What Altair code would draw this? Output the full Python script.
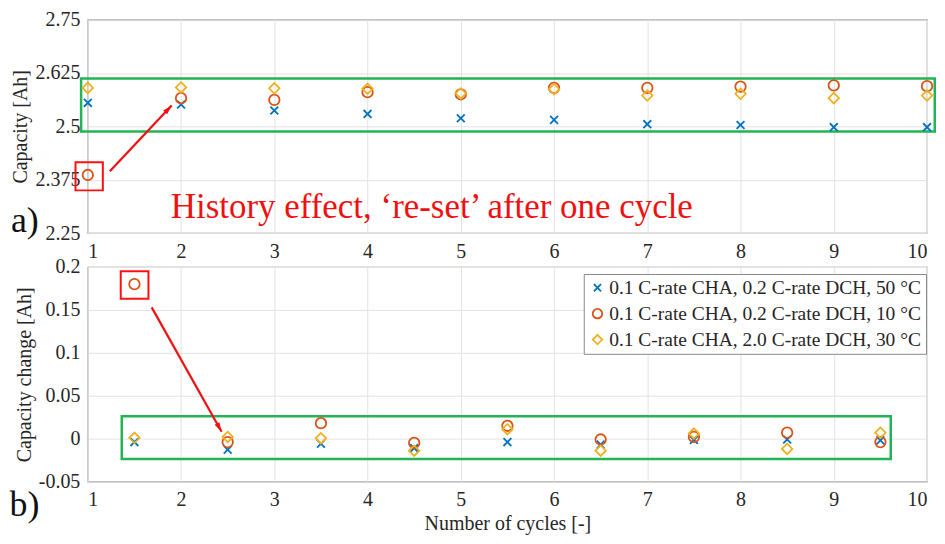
import altair as alt
import pandas as pd

# ---------------- data ----------------
cycles = [1, 2, 3, 4, 5, 6, 7, 8, 9, 10]
cap_50C = [2.555, 2.551, 2.537, 2.529, 2.519, 2.515, 2.505, 2.503, 2.498, 2.498]
cap_10C = [2.386, 2.566, 2.562, 2.580, 2.575, 2.590, 2.590, 2.593, 2.596, 2.594]
cap_30C = [2.590, 2.591, 2.589, 2.588, 2.577, 2.587, 2.572, 2.576, 2.566, 2.572]

mid_cycles = [1.5, 2.5, 3.5, 4.5, 5.5, 6.5, 7.5, 8.5, 9.5]
dcap_50C = [-0.004, -0.013, -0.006, -0.011, -0.004, -0.007, -0.0015, -0.001, -0.002]
dcap_10C = [0.180, -0.004, 0.018, -0.005, 0.015, -0.001, 0.002, 0.007, -0.004]
dcap_30C = [0.001, 0.002, 0.0005, -0.014, 0.011, -0.014, 0.006, -0.012, 0.007]

series = [
    "0.1 C-rate CHA, 0.2 C-rate DCH, 50 °C",
    "0.1 C-rate CHA, 0.2 C-rate DCH, 10 °C",
    "0.1 C-rate CHA, 2.0 C-rate DCH, 30 °C",
]
colors = ["#0072BD", "#D95319", "#EDB120"]
shapes = ["M-0.75,-0.75L0.75,0.75M-0.75,0.75L0.75,-0.75", "circle", "diamond"]

x_ticks = [1, 2, 3, 4, 5, 6, 7, 8, 9, 10]
top_y_ticks = [2.25, 2.375, 2.5, 2.625, 2.75]
bot_y_ticks = [-0.05, 0, 0.05, 0.1, 0.15, 0.2]

# annotation geometry (data units)
top_green = {"x": [0.928], "x2": [10.083], "y": [2.612], "y2": [2.488]}
top_red = {"x": [0.868], "x2": [1.161], "y": [2.416], "y2": [2.350]}
top_arrow = {"x": [1.236, 1.899], "y": [2.395, 2.549]}
top_arrow_angle = 43
top_note = ["History effect, \u2018re-set\u2019 after one cycle"]
top_note_pos = {"x": [1.89], "y": [2.2847]}
bot_green = {"x": [1.364], "x2": [9.611], "y": [0.026], "y2": [-0.0237]}
bot_red = {"x": [1.353], "x2": [1.650], "y": [0.195], "y2": [0.163]}
bot_arrow = {"x": [1.685, 2.435], "y": [0.153, 0.008]}
bot_arrow_angle = 151
panel_a = {"x": [0.325], "y": [2.2523], "t": ["a)"]}
panel_b = {"x": [0.32], "y": [-0.0899], "t": ["b)"]}

FONT = "Liberation Serif"
TXT = "#262626"

top_df = pd.DataFrame({
    "x": cycles * 3,
    "y": cap_50C + cap_10C + cap_30C,
    "series": [series[0]] * 10 + [series[1]] * 10 + [series[2]] * 10,
})
bot_df = pd.DataFrame({
    "x": mid_cycles * 3,
    "y": dcap_50C + dcap_10C + dcap_30C,
    "series": [series[0]] * 9 + [series[1]] * 9 + [series[2]] * 9,
})

W, H_TOP, H_BOT = 841, 214, 215

AX = dict(grid=True, ticks=False, domain=False,
          labelFont=FONT, labelFontSize=20, labelColor=TXT, labelPadding=8,
          titleFont=FONT, titleFontSize=20, titleFontWeight="normal", titleColor=TXT,
          titlePadding=4, gridColor="#e3e3e3")


def enc_xy(ydom, ytitle, yticks, xtitle):
    xs = alt.Scale(domain=[1, 10], nice=False, zero=False)
    ys = alt.Scale(domain=ydom, nice=False, zero=False)
    xa = alt.Axis(values=x_ticks, format="d", title=xtitle if xtitle else None, **AX)
    ya = alt.Axis(values=yticks, title=ytitle, labelExpr="'' + datum.value", **AX)
    return (alt.X("x:Q", scale=xs, axis=xa), alt.Y("y:Q", scale=ys, axis=ya))


def panel(df, ydom, ytitle, yticks, xtitle, green, red, arrow, angle, label, legend,
          note=None, height=216):
    X, Y = enc_xy(ydom, ytitle, yticks, xtitle)
    X2, Y2 = alt.X2("x2:Q"), alt.Y2("y2:Q")
    leg = None
    if legend:
        leg = alt.Legend(title=None, orient="none", legendX=497, legendY=7,
                         labelFont=FONT, labelFontSize=19.5, labelColor=TXT,
                         symbolSize=90, symbolStrokeWidth=1.8,
                         padding=4, rowPadding=5, labelOffset=2,
                         strokeColor="#8a8a8a", fillColor="white", labelLimit=400)
    g = alt.Chart(pd.DataFrame(green)).mark_rect(fill=None, stroke="#22b455", strokeWidth=2.5).encode(
        x=X, x2=X2, y=Y, y2=Y2)
    r = alt.Chart(pd.DataFrame(red)).mark_rect(fill=None, stroke="#ff1010", strokeWidth=2).encode(
        x=X, x2=X2, y=Y, y2=Y2)
    adf = pd.DataFrame(arrow)
    line = alt.Chart(adf).mark_line(color="#ee1111", strokeWidth=2.2).encode(x=X, y=Y)
    head = alt.Chart(adf.iloc[[1]]).mark_point(
        shape="M0,0L0.55,1.9L-0.55,1.9Z", filled=True, color="#ee1111", size=100, opacity=1,
        angle=angle).encode(x=X, y=Y)
    pts = alt.Chart(df).mark_point(filled=False, size=110, strokeWidth=1.8, opacity=1).encode(
        x=X, y=Y,
        color=alt.Color("series:N", scale=alt.Scale(domain=series, range=colors), legend=leg),
        shape=alt.Shape("series:N", scale=alt.Scale(domain=series, range=shapes), legend=leg),
    )
    lab = alt.Chart(pd.DataFrame(label)).mark_text(
        font=FONT, fontSize=36, color="#111111", align="center", baseline="alphabetic").encode(
        x=X, y=Y, text="t:N")
    layers = [g, r, line, head, pts, lab]
    if note is not None:
        ndf = pd.DataFrame(note[1])
        ndf["t"] = note[0]
        layers.append(alt.Chart(ndf).mark_text(
            font=FONT, fontSize=35, color="#ee1111", align="left", baseline="alphabetic").encode(
            x=X, y=Y, text="t:N"))
    return alt.layer(*layers).properties(width=W, height=height)


top = panel(top_df, [2.25, 2.75], "Capacity [Ah]", top_y_ticks, None,
            top_green, top_red, top_arrow, top_arrow_angle, panel_a, False,
            note=(top_note, top_note_pos), height=H_TOP)

bot = panel(bot_df, [-0.05, 0.2], "Capacity change [Ah]", bot_y_ticks, "Number of cycles [-]",
            bot_green, bot_red, bot_arrow, bot_arrow_angle, panel_b, True, height=H_BOT)

chart = alt.vconcat(top, bot, spacing=34, bounds="flush").resolve_scale(
    x="independent", y="independent", color="independent", shape="independent"
).resolve_legend(color="independent", shape="independent").properties(
    padding=0, background="white"
).configure_view(stroke="#8a8a8a", strokeWidth=1.2)

chart.save("out.html", embed_options={"renderer": "svg", "actions": False})
